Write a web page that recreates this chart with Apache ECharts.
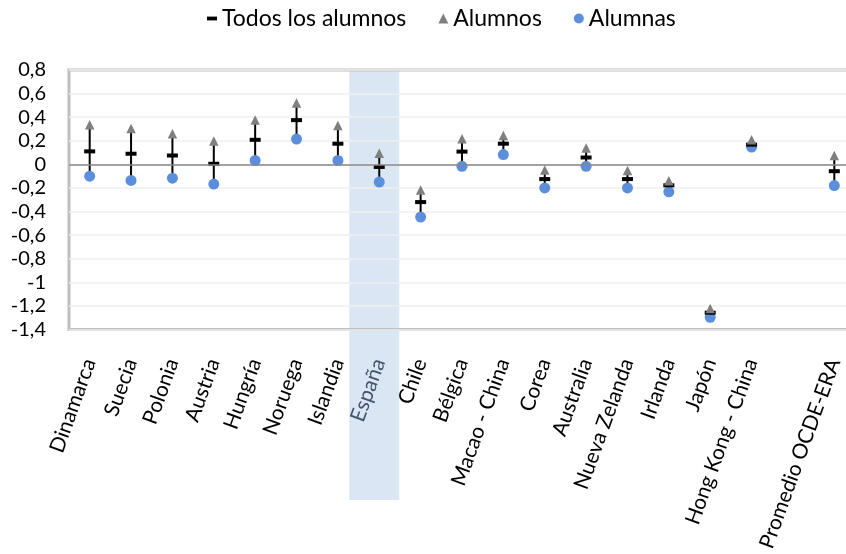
<!DOCTYPE html>
<html>
<head>
<meta charset="utf-8">
<script src="https://cdn.jsdelivr.net/npm/echarts@6/dist/echarts.min.js"></script>
<style>
html,body{margin:0;padding:0;background:#fff;overflow:hidden;width:846px;height:554px;}
#main{width:855px;height:554px;}
</style>
</head>
<body>
<div id="main"></div>
<script>
const categories = ['Dinamarca','Suecia','Polonia','Austria','Hungría','Noruega','Islandia','España','Chile','Bélgica','Macao - China','Corea','Australia','Nueva Zelanda','Irlanda','Japón','Hong Kong - China','','Promedio OCDE-ERA'];
const todos   = [0.11, 0.09, 0.075, 0.005, 0.208, 0.375, 0.175, -0.022, -0.32, 0.108, 0.175, -0.125, 0.058, -0.125, -0.178, -1.258, 0.167, null, -0.058];
const alumnos = [0.335, 0.305, 0.26, 0.197, 0.375, 0.52, 0.33, 0.094, -0.217, 0.217, 0.244, -0.047, 0.139, -0.053, -0.139, -1.222, 0.208, null, 0.075];
const alumnas = [-0.10, -0.136, -0.117, -0.167, 0.033, 0.214, 0.033, -0.15, -0.447, -0.017, 0.083, -0.2, -0.017, -0.2, -0.233, -1.297, 0.147, null, -0.18];
const yTicks = {min: -1.4, max: 0.8, interval: 0.2};
const highlight = 'España';

const FONT = 'Lato';
const rangeData = [];
categories.forEach((c, i) => {
  if (alumnos[i] != null && alumnas[i] != null) rangeData.push([i, alumnos[i], alumnas[i]]);
});

const chart = echarts.init(document.getElementById('main'), null, {renderer: 'canvas'});
const option = {
  animation: false,
  textStyle: {fontFamily: FONT},
  legend: {
    top: 7,
    left: 207,
    padding: 0,
    itemWidth: 10,
    itemHeight: 10,
    itemGap: 32,
    textStyle: {fontSize: 23, color: '#000', fontFamily: FONT},
    data: [
      {name: 'Todos los alumnos', icon: 'path://M0,0h10v3.8h-10z'},
      {name: 'Alumnos', icon: 'triangle'},
      {name: 'Alumnas', icon: 'circle'}
    ]
  },
  grid: {left: 69, right: 0, top: 70, bottom: 220, show: true, borderColor: '#bfbfbf', borderWidth: 3, containLabel: false},
  xAxis: {
    type: 'category',
    data: categories.map(c => c === highlight ? {value: c, textStyle: {color: '#44546A'}} : c),
    boundaryGap: true,
    axisLine: {show: false},
    axisTick: {show: false},
    splitLine: {show: false},
    axisLabel: {interval: 0, rotate: 70, margin: 30, fontSize: 21, color: '#000', fontFamily: FONT}
  },
  yAxis: {
    type: 'value',
    min: yTicks.min, max: yTicks.max, interval: yTicks.interval,
    axisLine: {show: false},
    axisTick: {show: false},
    splitLine: {lineStyle: {color: '#efefef', width: 1.5}},
    axisLabel: {
      fontSize: 20, color: '#000', margin: 23, fontFamily: FONT,
      formatter: v => {
        const r = Math.round(v * 10) / 10;
        return (Number.isInteger(r) ? String(r) : r.toFixed(1)).replace('.', ',');
      }
    }
  },
  series: [
    {
      type: 'custom',
      name: 'range',
      z: 1,
      silent: true,
      data: rangeData,
      encode: {x: 0, y: [1, 2]},
      renderItem: function (params, api) {
        const hi = api.coord([api.value(0), api.value(1)]);
        const lo = api.coord([api.value(0), api.value(2)]);
        return {type: 'line', shape: {x1: hi[0], y1: hi[1], x2: lo[0], y2: lo[1]}, style: {stroke: '#000', lineWidth: 2}};
      },
      markLine: {
        silent: true, symbol: 'none', label: {show: false},
        lineStyle: {color: '#878787', width: 1.5, type: 'solid'},
        data: [{yAxis: 0}]
      }
    },
    {
      name: 'Alumnas', type: 'scatter', z: 3,
      symbol: 'circle', symbolSize: 11,
      itemStyle: {color: '#5b8fdb', opacity: 1},
      data: alumnas
    },
    {
      name: 'Todos los alumnos', type: 'scatter', z: 4,
      symbol: 'rect', symbolSize: [11, 4],
      itemStyle: {color: '#000', opacity: 1},
      data: todos
    },
    {
      name: 'Alumnos', type: 'scatter', z: 5,
      symbol: 'triangle', symbolSize: 9.5,
      itemStyle: {color: '#7f7f7f', opacity: 1},
      data: alumnos
    }
  ]
};
chart.setOption(option);

const idx = categories.indexOf(highlight);
const c = chart.convertToPixel({xAxisIndex: 0, yAxisIndex: 0}, [idx, yTicks.max]);
chart.setOption({
  graphic: [{
    type: 'rect', z: -10, silent: true,
    shape: {x: c[0] - 30, y: c[1], width: 50, height: 500 - c[1]},
    style: {fill: 'rgba(183,206,235,0.5)'}
  }]
});
</script>
</body>
</html>
